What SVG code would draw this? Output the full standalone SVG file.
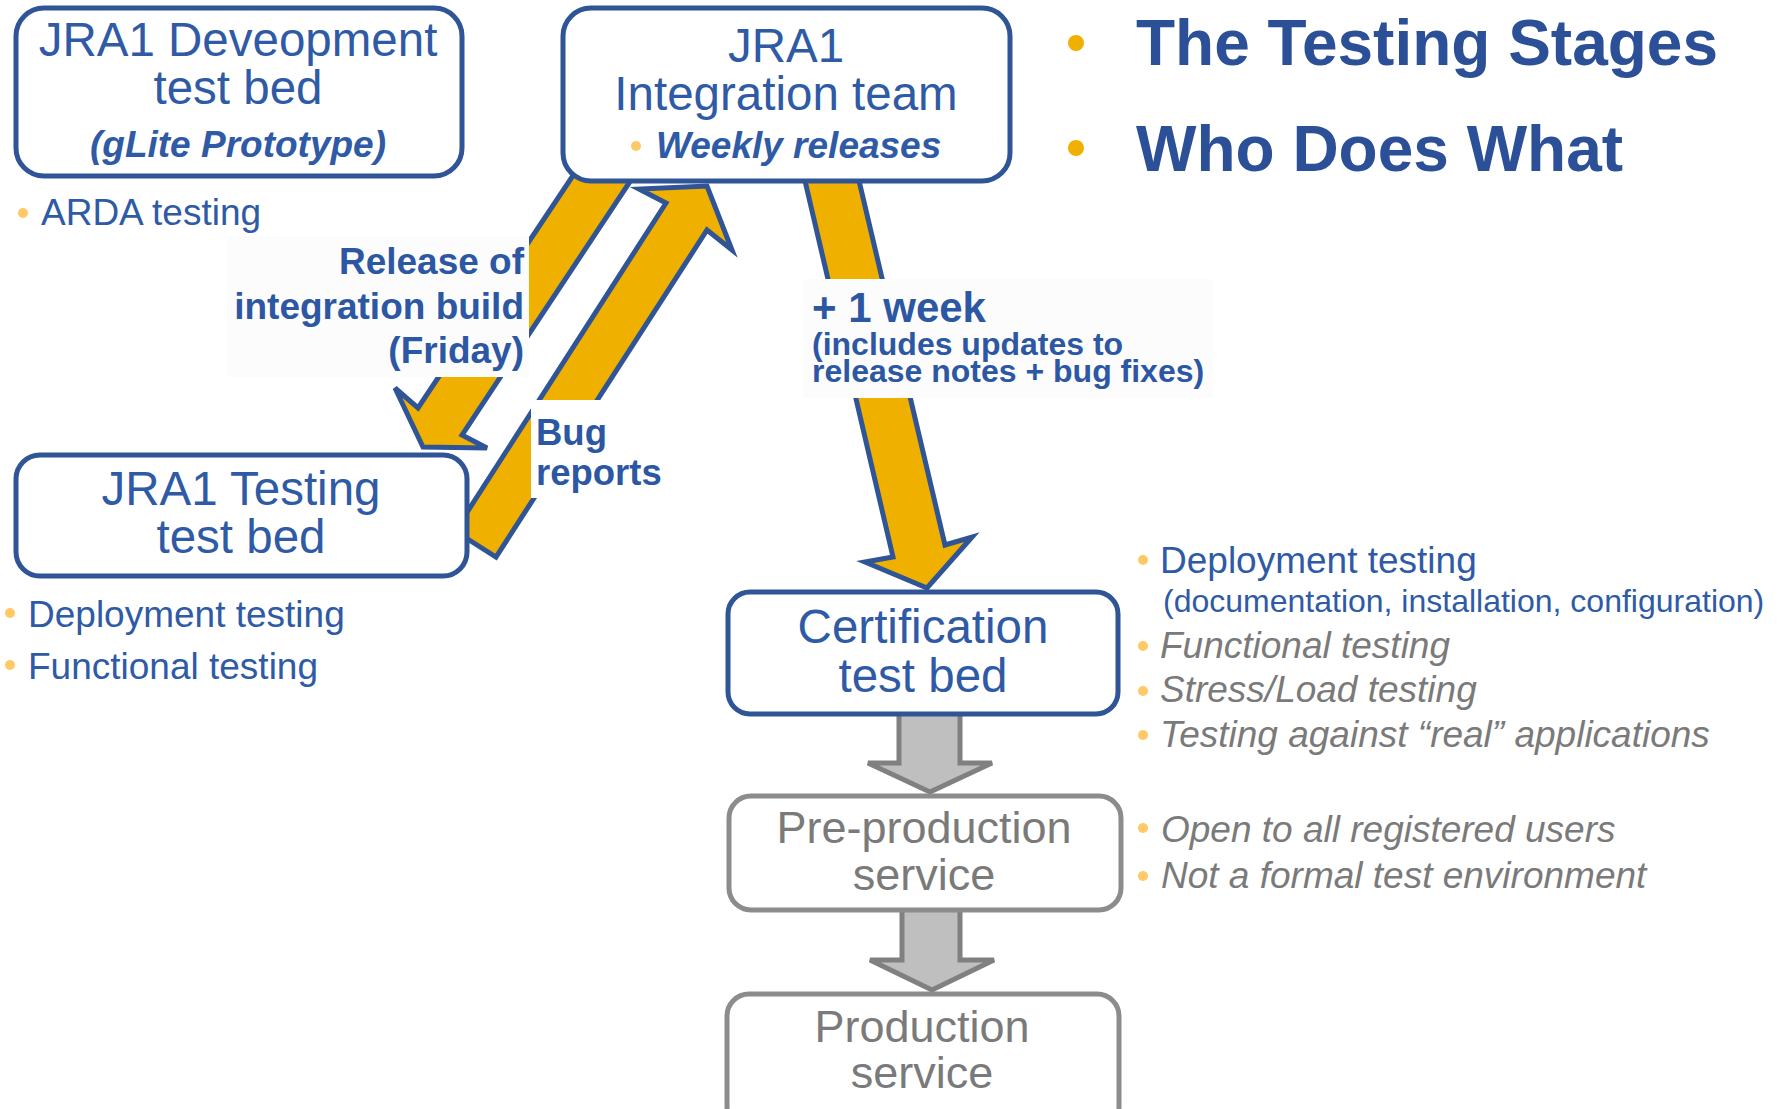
<svg xmlns="http://www.w3.org/2000/svg" width="1778" height="1109" viewBox="0 0 1778 1109">
<style>
.bx{fill:#fff;stroke:#2f5597;stroke-width:5}
.gb{fill:#fff;stroke:#8c8c8c;stroke-width:5}
.t{font-family:"Liberation Sans",Arial,sans-serif;fill:#2f5aa5}
.n{font-size:47.5px;text-anchor:middle}
.g{font-family:"Liberation Sans",Arial,sans-serif;fill:#7a7a7a}
.bi{font-weight:bold;font-style:italic}
.lb{font-family:"Liberation Sans",Arial,sans-serif;font-weight:bold;fill:#2c57a3}
.oa{fill:#f0b000;stroke:#2f5597;stroke-width:5;stroke-linejoin:miter}
.ga{fill:#bfbfbf;stroke:#808080;stroke-width:5}
.pb{fill:#ffc966}
.side{font-size:37px}
</style>

<g id="connectors">
  <polygon id="release-arrow" class="oa" points="580,165 641,165 462,435 487,448 423,447 395,388 418,408"/>
  <polygon id="bug-arrow" class="oa" points="455,531 496,557 707,230 732,250 707,186 639,189 666,203"/>
  <polygon id="week-arrow" class="oa" points="802,168 856,168 945,545 972,537 927,588 865,562 893,557"/>
  <polygon id="cert-to-pre" class="ga" points="899,712 960,712 960,763 992,763 930,792 868,763 899,763"/>
  <polygon id="pre-to-prod" class="ga" points="902,908 960,908 960,960 994,960 932,990 870,960 902,960"/>
  <g id="release-label">
    <rect x="227" y="236" width="302" height="141" fill="#fcfcfc"/>
    <text class="lb" font-size="37" text-anchor="end"><tspan x="524" y="274">Release of</tspan><tspan x="524" y="319">integration build</tspan><tspan x="524" y="363">(Friday)</tspan></text>
  </g>
  <g id="bug-label">
    <rect x="531" y="400" width="134" height="98" fill="#fff"/>
    <text class="lb" font-size="36.5"><tspan x="536" y="445">Bug</tspan><tspan x="536" y="485">reports</tspan></text>
  </g>
  <g id="week-label">
    <rect x="803" y="279" width="410" height="119" fill="#fcfcfc"/>
    <text class="lb" font-size="42" x="812" y="322">+ 1 week</text>
    <text class="lb" font-size="32"><tspan x="812" y="355">(includes updates to</tspan><tspan x="812" y="382">release notes + bug fixes)</tspan></text>
  </g>
</g>

<g id="dev-testbed">
  <rect class="bx" x="16" y="8" width="446" height="168" rx="28"/>
  <text class="t n" x="238" y="56">JRA1 Deveopment</text>
  <text class="t n" x="238" y="104">test bed</text>
  <text class="t bi" font-size="37" text-anchor="middle" x="238" y="157">(gLite Prototype)</text>
  <circle class="pb" cx="23" cy="213" r="5"/>
  <text class="t side" x="41" y="225">ARDA testing</text>
</g>

<g id="integration-team">
  <rect class="bx" x="563" y="8" width="447" height="173" rx="28"/>
  <text class="t n" x="786" y="62">JRA1</text>
  <text class="t n" x="786" y="110">Integration team</text>
  <circle class="pb" cx="636" cy="146" r="5"/>
  <text class="t bi" font-size="37" x="656" y="158">Weekly releases</text>
</g>

<g id="testing-testbed">
  <rect class="bx" x="16" y="455" width="451" height="121" rx="24"/>
  <text class="t n" x="241" y="505">JRA1 Testing</text>
  <text class="t n" x="241" y="553">test bed</text>
  <circle class="pb" cx="10" cy="613" r="5"/>
  <text class="t side" x="28" y="627">Deployment testing</text>
  <circle class="pb" cx="10" cy="665" r="5"/>
  <text class="t side" x="28" y="679">Functional testing</text>
</g>

<g id="certification-testbed">
  <rect class="bx" x="728" y="592" width="390" height="122" rx="22"/>
  <text class="t n" x="923" y="643">Certification</text>
  <text class="t n" x="923" y="692">test bed</text>
  <circle class="pb" cx="1143" cy="560" r="5"/>
  <text class="t side" x="1160" y="573">Deployment testing</text>
  <text class="t" font-size="32" x="1163" y="612">(documentation, installation, configuration)</text>
  <circle class="pb" cx="1143" cy="646" r="5"/>
  <text class="g side" font-style="italic" x="1160" y="658">Functional testing</text>
  <circle class="pb" cx="1143" cy="691" r="5"/>
  <text class="g side" font-style="italic" x="1160" y="702">Stress/Load testing</text>
  <circle class="pb" cx="1143" cy="735" r="5"/>
  <text class="g side" font-style="italic" x="1160" y="747">Testing against “real” applications</text>
</g>

<g id="preproduction-service">
  <rect class="gb" x="729" y="796" width="392" height="114" rx="22"/>
  <text class="g" font-size="45" text-anchor="middle" x="924" y="843">Pre-production</text>
  <text class="g" font-size="45" text-anchor="middle" x="924" y="890">service</text>
  <circle class="pb" cx="1143" cy="828" r="5"/>
  <text class="g side" font-style="italic" x="1161" y="842">Open to all registered users</text>
  <circle class="pb" cx="1143" cy="876" r="5"/>
  <text class="g side" font-style="italic" x="1161" y="888">Not a formal test environment</text>
</g>

<g id="production-service">
  <rect class="gb" x="727" y="994" width="392" height="135" rx="22"/>
  <text class="g" font-size="45" text-anchor="middle" x="922" y="1042">Production</text>
  <text class="g" font-size="45" text-anchor="middle" x="922" y="1088">service</text>
</g>

<g id="title">
  <circle cx="1076" cy="43" r="8" fill="#f0b000"/>
  <text class="lb" font-size="64" x="1136" y="65" style="fill:#2b5097">The Testing Stages</text>
  <circle cx="1076" cy="148" r="8" fill="#f0b000"/>
  <text class="lb" font-size="64" x="1136" y="171" style="fill:#2b5097">Who Does What</text>
</g>
</svg>
